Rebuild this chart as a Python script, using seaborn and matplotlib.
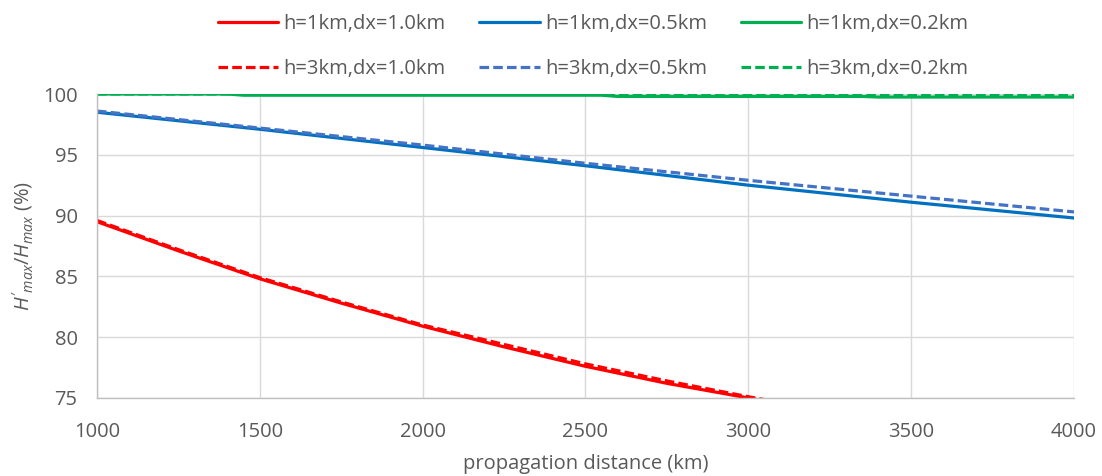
import matplotlib
matplotlib.use("Agg")
import matplotlib.pyplot as plt
import seaborn as sns
import pandas as pd

x_red = [1000, 1250, 1500, 1750, 2000, 2250, 2500, 2750, 3000, 3250]
red_h1 = [89.5, 87.1, 84.8, 82.8, 80.9, 79.2, 77.6, 76.2, 75.0, 73.8]
red_h3 = [89.6, 87.2, 84.9, 82.9, 81.0, 79.4, 77.8, 76.4, 75.1, 73.9]

x_all = [1000, 1500, 2000, 2500, 3000, 3500, 4000]
blue_h1 = [98.5, 97.1, 95.6, 94.1, 92.5, 91.1, 89.8]
blue_h3 = [98.6, 97.2, 95.8, 94.3, 92.9, 91.6, 90.3]

x_green = [1000, 1400, 1450, 2550, 2600, 3350, 3400, 4000]
green_h1 = [100.0, 100.0, 99.9, 99.9, 99.8, 99.8, 99.75, 99.75]
green_h3 = [100.0, 100.0, 100.0, 100.0, 99.95, 99.95, 99.9, 99.9]

labels = ["h=1km,dx=1.0km", "h=3km,dx=1.0km", "h=1km,dx=0.5km",
          "h=3km,dx=0.5km", "h=1km,dx=0.2km", "h=3km,dx=0.2km"]
colors = ["#FF0000", "#FF0000", "#0070C0", "#4472C4", "#00B050", "#00B050"]
dash = (0, (3.0, 1.3))
styles = ["-", dash, "-", dash, "-", dash]

series = [(x_red, red_h1), (x_red, red_h3), (x_all, blue_h1), (x_all, blue_h3),
          (x_green, green_h1), (x_green, green_h3)]

sns.set_theme(style="white")
plt.rcParams['font.family'] = ['Open Sans', 'DejaVu Sans']
plt.rcParams['mathtext.fontset'] = 'custom'
plt.rcParams['mathtext.it'] = 'Open Sans:italic'
plt.rcParams['mathtext.rm'] = 'Open Sans'

FS = 14.5
LW = 2.3
fig = plt.figure(figsize=(11.02, 4.76), dpi=100)
ax = fig.add_axes([0.088, 0.164, 0.8866, 0.6385])

for (xs, ys), lab, c, ls in zip(series, labels, colors, styles):
    df = pd.DataFrame({"x": xs, "y": ys})
    sns.lineplot(data=df, x="x", y="y", ax=ax, color=c, linestyle=ls,
                 linewidth=LW, label=lab, legend=False)

ax.set_xlim(1000, 4000)
ax.set_ylim(75, 100)
ax.set_xticks(range(1000, 4001, 500))
ax.set_yticks(range(75, 101, 5))
ax.grid(True, color="#D9D9D9", linewidth=1)
ax.set_axisbelow(True)
for s in ["top", "right"]:
    ax.spines[s].set_visible(False)
for s in ["left", "bottom"]:
    ax.spines[s].set_color("#BFBFBF")
    ax.spines[s].set_linewidth(1)
ax.tick_params(axis="both", colors="#595959", labelsize=FS, length=0)
ax.tick_params(axis="x", pad=17)
ax.tick_params(axis="y", pad=14)
ax.set_xlabel("propagation distance (km)", color="#595959", fontsize=FS, labelpad=9)
ax.set_ylabel(r"$H'_{max}/H_{max}$ (%)", color="#595959", fontsize=FS, labelpad=6)

handles = ax.get_lines()[:6]
leg = fig.legend(handles, labels, loc="upper center",
                 bbox_to_anchor=(593 / 1102, 1 - 4 / 476), ncol=3,
                 frameon=False, fontsize=FS, handlelength=3.0, handletextpad=0.25,
                 columnspacing=1.7, labelspacing=1.25, borderpad=0,
                 labelcolor="#595959")

fig.savefig("out.png", dpi=100)
